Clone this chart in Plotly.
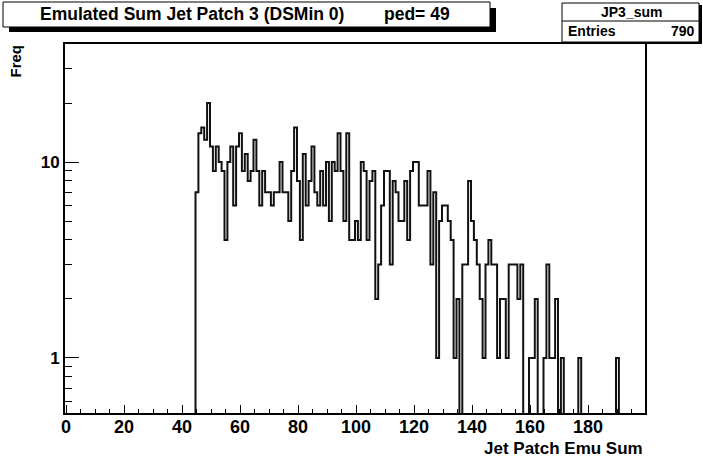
import math
import plotly.graph_objects as go

# ---- data ----
first_bin = 45
counts = [
    7, 14, 15, 13, 20, 12, 9, 12, 10, 9, 4, 10, 12, 6, 12, 14, 9, 11, 8,          # 45-63
    9, 13, 9, 6, 9, 7, 7, 6, 7, 7, 10, 7, 7, 5, 9, 15, 8, 4, 11, 6,              # 64-83
    8, 12, 7, 6, 9, 6, 10, 5, 10, 9, 14, 9, 5, 14, 4, 4, 5, 4, 10, 9,            # 84-103
    4, 8, 9, 2, 3, 6, 9, 9, 3, 8, 7, 5, 5, 8, 4,                                  # 104-118
    9, 10, 10, 6, 6, 6, 9, 3, 7, 1, 5, 6, 6, 5, 4, 1, 2, 0, 3, 3, 8, 5, 4, 3, 2, 1,  # 119-144
    3, 4, 3, 3, 1, 2, 2, 1, 3, 3, 3, 2, 3, 0, 0, 1, 1, 2, 0, 0, 1, 3, 1, 1, 2, 0, 1,  # 145-171
    0, 0, 0, 0, 0, 1, 0, 0, 0, 0, 0, 0, 0, 0, 0, 0, 0, 0, 1, 0,                   # 172-191
]
bin_centers = [first_bin + i for i in range(len(counts))]

title_main = "Emulated Sum Jet Patch 3 (DSMin 0)"
title_ped = "ped= 49"
stats_name = "JP3_sum"
stats_entries = 790
x_title = "Jet Patch Emu Sum"
y_title = "Freq"
x_range = [-0.5, 199.5]
y_range = [0.524, 40]
x_tickvals = [0, 20, 40, 60, 80, 100, 120, 140, 160, 180]
y_tickvals = [1, 10]
y_minor = [0.6, 0.7, 0.8, 0.9, 2, 3, 4, 5, 6, 7, 8, 9, 20, 30, 40]

# ---- build step outline (zero bins drop below the log-axis floor) ----
FLOOR = 1e-3
xs = [bin_centers[0] - 1] + bin_centers + [bin_centers[-1] + 1]
ys = [FLOOR] + [c if c > 0 else FLOOR for c in counts] + [FLOOR]

FONT = "Liberation Sans, Arial, sans-serif"
W, H = 703, 463
# frame position in pixels
L, R, T, B = 65, 645, 44, 413


def px(X):
    return (X - L) / (R - L)


def py(Y):
    return (B - Y) / (B - T)


fig = go.Figure()
fig.add_trace(go.Scatter(
    x=xs, y=ys, mode="lines", line=dict(shape="hvh", color="#111111", width=2),
    hoverinfo="skip", showlegend=False,
))

fig.update_layout(
    width=W, height=H,
    margin=dict(l=L, r=W - R, t=T, b=H - B, pad=0),
    paper_bgcolor="white", plot_bgcolor="white",
    font=dict(family=FONT, size=18, color="black", weight="bold"),
    showlegend=False,
)
fig.update_xaxes(
    range=x_range, showgrid=False, zeroline=False,
    showline=True, linecolor="black", linewidth=2, mirror=True,
    ticks="inside", ticklen=8, tickwidth=1, tickcolor="black",
    tickvals=x_tickvals, showticklabels=False,
    minor=dict(ticks="inside", ticklen=4, tickwidth=1, tickcolor="black", dtick=5, tick0=0),
)
fig.update_yaxes(
    type="log", range=[math.log10(y_range[0]), math.log10(y_range[1])],
    showgrid=False, zeroline=False,
    showline=True, linecolor="black", linewidth=2, mirror=True,
    ticks="inside", ticklen=14, tickwidth=1, tickcolor="black",
    tickvals=y_tickvals, ticktext=[str(v) for v in y_tickvals],
    tickfont=dict(family=FONT, size=17, weight="bold"),
    minor=dict(ticks="inside", ticklen=7, tickwidth=1, tickcolor="black", tickvals=y_minor),
)

shapes = []
# title box with shadow
shapes.append(dict(type="rect", xref="paper", yref="paper",
                   x0=px(9), x1=px(496), y0=py(32), y1=py(8),
                   fillcolor="black", line=dict(width=0)))
shapes.append(dict(type="rect", xref="paper", yref="paper",
                   x0=px(3), x1=px(490), y0=py(27), y1=py(2),
                   fillcolor="white", line=dict(color="black", width=1)))
# stats box with shadow
shapes.append(dict(type="rect", xref="paper", yref="paper",
                   x0=px(565), x1=px(702), y0=py(44), y1=py(5),
                   fillcolor="black", line=dict(width=0)))
shapes.append(dict(type="rect", xref="paper", yref="paper",
                   x0=px(562), x1=px(699), y0=py(42), y1=py(3),
                   fillcolor="white", line=dict(color="black", width=1)))
shapes.append(dict(type="line", xref="paper", yref="paper",
                   x0=px(562), x1=px(699), y0=py(21), y1=py(21),
                   line=dict(color="black", width=1)))
fig.update_layout(shapes=shapes)

ann = []
# x tick labels placed at the axis' tick values
for v in x_tickvals:
    ann.append(dict(text=str(v), xref="x", yref="paper", x=v, y=py(415),
                    xanchor="center", yanchor="top", showarrow=False,
                    font=dict(family=FONT, size=18, weight="bold")))
ann.append(dict(text=title_main, xref="paper", yref="paper", x=px(38), y=py(14),
                xanchor="left", yanchor="middle", showarrow=False,
                font=dict(family=FONT, size=17.5, weight="bold")))
ann.append(dict(text=title_ped, xref="paper", yref="paper", x=px(452), y=py(14),
                xanchor="right", yanchor="middle", showarrow=False,
                font=dict(family=FONT, size=17.5, weight="bold")))
ann.append(dict(text=stats_name, xref="paper", yref="paper", x=px(631), y=py(12),
                xanchor="center", yanchor="middle", showarrow=False,
                font=dict(family=FONT, size=14, weight="bold")))
ann.append(dict(text="Entries", xref="paper", yref="paper", x=px(566), y=py(31),
                xanchor="left", yanchor="middle", showarrow=False,
                font=dict(family=FONT, size=14, weight="bold")))
ann.append(dict(text=str(stats_entries), xref="paper", yref="paper", x=px(697), y=py(31),
                xanchor="right", yanchor="middle", showarrow=False,
                font=dict(family=FONT, size=14, weight="bold")))
ann.append(dict(text=x_title, xref="paper", yref="paper", x=px(645), y=py(448),
                xanchor="right", yanchor="middle", showarrow=False,
                font=dict(family=FONT, size=17, weight="bold")))
ann.append(dict(text=y_title, xref="paper", yref="paper", x=px(15), y=py(43),
                xanchor="center", yanchor="top", textangle=-90, showarrow=False,
                font=dict(family=FONT, size=15, weight="bold")))
fig.update_layout(annotations=ann)

fig.write_html("out.html", config={"displayModeBar": False},
               post_script="document.body.style.margin='0';document.body.style.overflow='hidden';")
